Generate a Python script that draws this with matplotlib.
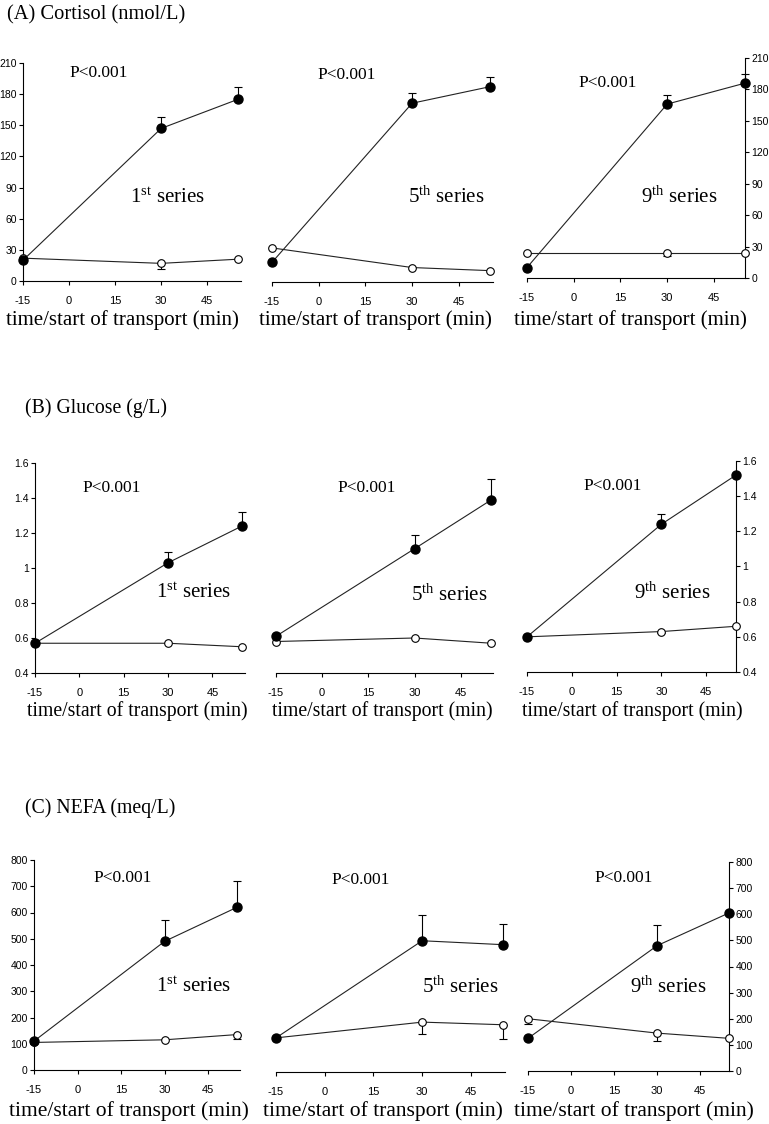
import matplotlib
matplotlib.use("Agg")
import matplotlib.pyplot as plt
import numpy as np

plt.rcParams['mathtext.fontset'] = 'custom'
plt.rcParams['mathtext.rm'] = 'Liberation Serif'
plt.rcParams['mathtext.it'] = 'Liberation Serif:italic'
plt.rcParams['mathtext.bf'] = 'Liberation Serif:bold'

W, H = 769, 1124

# ---------------- data ----------------
times = [-15, 30, 55]
xticks = [-15, 0, 15, 30, 45]

# (A) Cortisol (nmol/L)
cort_s1_closed = [20, 147, 175]
cort_s1_closed_err = [0, 11, 12]
cort_s1_open = [22, 17, 21]
cort_s1_open_err = [0, 5, 0]
cort_s5_closed = [19, 173, 189]
cort_s5_closed_err = [0, 10, 9]
cort_s5_open = [33, 14, 11]
cort_s5_open_err = [0, 0, 0]
cort_s9_closed = [10, 166, 186]
cort_s9_closed_err = [0, 9, 9]
cort_s9_open = [24, 24, 24]
cort_s9_open_err = [0, 3, 0]
cort_yticks = [0, 30, 60, 90, 120, 150, 180, 210]

# (B) Glucose (g/L)
glu_s1_closed = [0.57, 1.03, 1.24]
glu_s1_closed_err = [0, 0.06, 0.08]
glu_s1_open = [0.57, 0.57, 0.55]
glu_s1_open_err = [0, 0, 0]
glu_s5_closed = [0.61, 1.11, 1.39]
glu_s5_closed_err = [0, 0.08, 0.12]
glu_s5_open = [0.58, 0.60, 0.57]
glu_s5_open_err = [0, 0, 0]
glu_s9_closed = [0.60, 1.24, 1.52]
glu_s9_closed_err = [0, 0.06, 0]
glu_s9_open = [0.60, 0.63, 0.66]
glu_s9_open_err = [0, 0.01, 0]
glu_yticks = [0.4, 0.6, 0.8, 1.0, 1.2, 1.4, 1.6]
glu_yticklabels = ['0.4', '0.6', '0.8', '1', '1.2', '1.4', '1.6']

# (C) NEFA (meq/L)
nefa_s1_closed = [110, 490, 620]
nefa_s1_closed_err = [0, 80, 100]
nefa_s1_open = [105, 115, 135]
nefa_s1_open_err = [0, 0, 15]
nefa_s5_closed = [130, 500, 485]
nefa_s5_closed_err = [0, 100, 80]
nefa_s5_open = [130, 190, 180]
nefa_s5_open_err = [0, 45, 55]
nefa_s9_closed = [125, 480, 605]
nefa_s9_closed_err = [0, 80, 0]
nefa_s9_open = [200, 145, 125]
nefa_s9_open_err = [20, 30, 0]
nefa_yticks = [0, 100, 200, 300, 400, 500, 600, 700, 800]

series_labels = ['1$^{\\rm st}$ series', '5$^{\\rm th}$ series', '9$^{\\rm th}$ series']
titles = ['(A) Cortisol (nmol/L)', '(B) Glucose (g/L)', '(C) NEFA (meq/L)']
xlabel_text = 'time/start of transport (min)'
ptext = 'P<0.001'

SERIF = 'Liberation Serif'
SANS = 'Liberation Sans'
TICKFS = 7.5

fig = plt.figure(figsize=(W / 100, H / 100), dpi=100)


def add_ax(left, right, top, bottom):
    return fig.add_axes([left / W, 1 - bottom / H, (right - left) / W, (bottom - top) / H])


def draw(ax, closed, cerr, opn, oerr, xlim, ylim, yside, yticks, yticklabels,
         ppos, spos, slabel):
    t = np.array(times, dtype=float)
    c = np.array(closed, dtype=float)
    o = np.array(opn, dtype=float)
    ce = np.array(cerr, dtype=float)
    oe = np.array(oerr, dtype=float)
    ax.set_xlim(*xlim)
    ax.set_ylim(*ylim)
    # error bars (one-sided)
    m = ce > 0
    if m.any():
        ax.errorbar(t[m], c[m], yerr=[np.zeros(m.sum()), ce[m]], fmt='none',
                    ecolor='k', elinewidth=0.8, capsize=3, capthick=0.8, clip_on=False, zorder=2)
    m = oe > 0
    if m.any():
        ax.errorbar(t[m], o[m], yerr=[oe[m], np.zeros(m.sum())], fmt='none',
                    ecolor='k', elinewidth=0.8, capsize=3, capthick=0.8, clip_on=False, zorder=2)
    ax.plot(t, o, '-', color='#222222', lw=0.8, marker='o', ms=5.5, mfc='white',
            mec='k', mew=0.8, clip_on=False, zorder=3)
    ax.plot(t, c, '-', color='#222222', lw=0.8, marker='o', ms=6.5, mfc='k',
            mec='k', clip_on=False, zorder=4)

    for s in ['top', 'left', 'right', 'bottom']:
        ax.spines[s].set_visible(False)
    ax.spines['bottom'].set_visible(True)
    ax.spines['bottom'].set_linewidth(0.8)
    ax.set_xticks(xticks)
    ax.set_xticklabels([str(v) for v in xticks], fontfamily=SANS, fontsize=TICKFS + 0.5)
    ax.tick_params(axis='x', direction='out', length=3, width=0.8, pad=8)
    if yside is None:
        ax.set_yticks([])
    else:
        ax.spines[yside].set_visible(True)
        ax.spines[yside].set_linewidth(0.8)
        ax.set_yticks(yticks)
        ax.set_yticklabels(yticklabels, fontfamily=SANS, fontsize=TICKFS)
        if yside == 'right':
            ax.yaxis.tick_right()
        ax.tick_params(axis='y', direction='out', length=3, width=0.8, pad=1.5)
    ax.patch.set_alpha(0)
    ax.text(ppos[0], ppos[1], ptext, fontfamily=SERIF, fontsize=12.5,
            ha='center', va='center')
    ax.text(spos[0], spos[1], slabel, fontfamily=SERIF, fontsize=15,
            ha='center', va='center')


# Row A
ct = cort_yticks
ctl = [str(v) for v in ct]
axA1 = add_ax(23, 241, 63, 281)
draw(axA1, cort_s1_closed, cort_s1_closed_err, cort_s1_open, cort_s1_open_err,
     (-15, 56), (0, 210), 'left', ct, ctl, (9.5, 200), (32, 80), series_labels[0])
axA2 = add_ax(272, 493, 65, 282)
draw(axA2, cort_s5_closed, cort_s5_closed_err, cort_s5_open, cort_s5_open_err,
     (-15, 56), (0, 210), None, ct, ctl, (9, 200), (41, 82), series_labels[1])
axA3 = add_ax(527, 745, 58, 278)
draw(axA3, cort_s9_closed, cort_s9_closed_err, cort_s9_open, cort_s9_open_err,
     (-15, 55), (0, 210), 'right', ct, ctl, (10.8, 186), (34, 77), series_labels[2])

# Row B
gt = glu_yticks
gtl = glu_yticklabels
axB1 = add_ax(35, 245, 463, 673)
draw(axB1, glu_s1_closed, glu_s1_closed_err, glu_s1_open, glu_s1_open_err,
     (-15, 56), (0.4, 1.6), 'left', gt, gtl, (11, 1.457), (38.6, 0.857), series_labels[0])
axB2 = add_ax(276, 493, 463, 673)
draw(axB2, glu_s5_closed, glu_s5_closed_err, glu_s5_open, glu_s5_open_err,
     (-15, 55.5), (0.4, 1.6), None, gt, gtl, (14.5, 1.457), (41.4, 0.846), series_labels[1])
axB3 = add_ax(527, 736, 461, 672)
draw(axB3, glu_s9_closed, glu_s9_closed_err, glu_s9_open, glu_s9_open_err,
     (-15, 55), (0.4, 1.6), 'right', gt, gtl, (13.7, 1.457), (33.7, 0.846), series_labels[2])

# Row C
nt = nefa_yticks
ntl = [str(v) for v in nt]
axC1 = add_ax(34, 240, 860, 1070)
draw(axC1, nefa_s1_closed, nefa_s1_closed_err, nefa_s1_open, nefa_s1_open_err,
     (-15, 56), (0, 800), 'left', nt, ntl, (15.7, 731), (39.8, 316), series_labels[0])
axC2 = add_ax(276, 505, 862, 1072)
draw(axC2, nefa_s5_closed, nefa_s5_closed_err, nefa_s5_open, nefa_s5_open_err,
     (-15, 55.5), (0, 800), None, nt, ntl, (11, 731), (41.7, 324), series_labels[1])
axC3 = add_ax(528, 729, 862, 1071)
draw(axC3, nefa_s9_closed, nefa_s9_closed_err, nefa_s9_open, nefa_s9_open_err,
     (-15, 55), (0, 800), 'right', nt, ntl, (18.4, 738), (34, 320), series_labels[2])


def ftext(x, y, s, **kw):
    fig.text(x / W, 1 - y / H, s, **kw)


# titles
ftext(7, 15, titles[0], fontfamily=SERIF, fontsize=14.8, ha='left', va='center')
ftext(25, 408, titles[1], fontfamily=SERIF, fontsize=14.2, ha='left', va='center')
ftext(25, 808, titles[2], fontfamily=SERIF, fontsize=14.2, ha='left', va='center')

# x labels
for cx in (122, 375, 630):
    ftext(cx, 320, xlabel_text, fontfamily=SERIF, fontsize=15, ha='center', va='center')
for cx in (137, 382, 632):
    ftext(cx, 711, xlabel_text, fontfamily=SERIF, fontsize=14.2, ha='center', va='center')
for cx in (129, 383, 634):
    ftext(cx, 1111, xlabel_text, fontfamily=SERIF, fontsize=15.5, ha='center', va='center')

fig.savefig('out.png', dpi=100)
